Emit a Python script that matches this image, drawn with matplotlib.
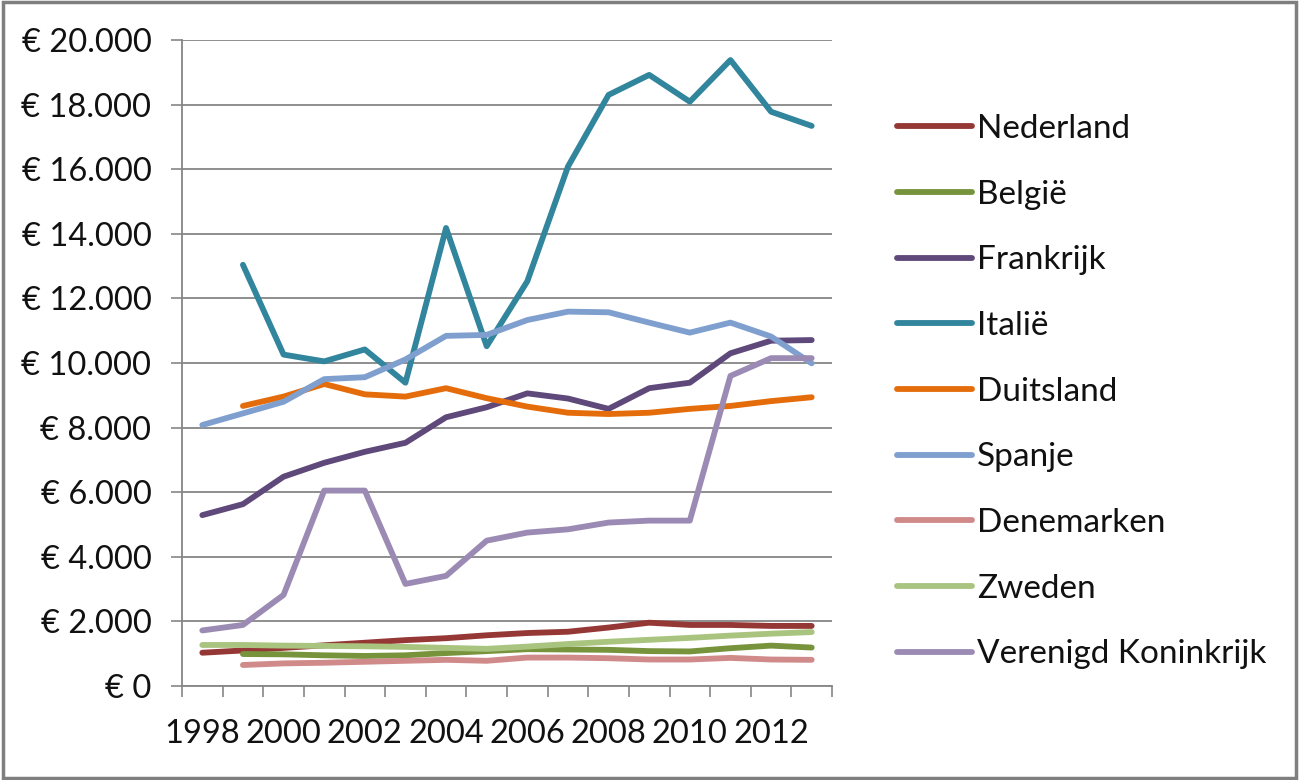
import numpy as np
import matplotlib
matplotlib.use("Agg")
import matplotlib.pyplot as plt
from matplotlib.patches import Rectangle

plt.rcParams['font.family'] = ['Lato', 'DejaVu Sans']

# jaren (categorie-as)
years = list(range(1998, 2014))
nan = np.nan

# waarden per land (euro)
nederland = [1030, 1100, 1180, 1260, 1340, 1420, 1480, 1570, 1640, 1680, 1810, 1960, 1890, 1890, 1860, 1860]
belgie = [nan, 990, 980, 950, 930, 950, 1020, 1080, 1140, 1130, 1120, 1080, 1070, 1170, 1250, 1190]
frankrijk = [5290, 5630, 6480, 6910, 7250, 7530, 8320, 8630, 9060, 8900, 8580, 9220, 9390, 10300, 10690, 10710]
italie = [nan, 13040, 10260, 10050, 10420, 9390, 14180, 10520, 12530, 16080, 18300, 18920, 18090, 19380, 17780, 17340]
duitsland = [nan, 8670, 8960, 9350, 9030, 8960, 9220, 8910, 8650, 8460, 8420, 8460, 8580, 8670, 8820, 8940]
spanje = [8080, 8440, 8800, 9500, 9560, 10110, 10840, 10870, 11330, 11590, 11570, 11250, 10940, 11250, 10820, 9990]
denemarken = [nan, 650, 700, 720, 750, 780, 810, 780, 880, 880, 860, 820, 820, 870, 820, 810]
zweden = [1270, 1270, 1250, 1240, 1230, 1210, 1180, 1150, 1220, 1300, 1370, 1430, 1490, 1560, 1620, 1670]
vk = [1720, 1890, 2820, 6050, 6050, 3160, 3410, 4500, 4750, 4850, 5060, 5120, 5120, 9600, 10150, 10150]

series = [
    ("Nederland", nederland, "#953735"),
    ("België", belgie, "#77933C"),
    ("Frankrijk", frankrijk, "#5F497A"),
    ("Italië", italie, "#31859C"),
    ("Duitsland", duitsland, "#E46C0A"),
    ("Spanje", spanje, "#7F9FCF"),
    ("Denemarken", denemarken, "#D08A8A"),
    ("Zweden", zweden, "#A9C47F"),
    ("Verenigd Koninkrijk", vk, "#9B8BB4"),
]

y_ticks = [0, 2000, 4000, 6000, 8000, 10000, 12000, 14000, 16000, 18000, 20000]
y_labels = ["€ 0", "€ 2.000", "€ 4.000", "€ 6.000", "€ 8.000", "€ 10.000",
            "€ 12.000", "€ 14.000", "€ 16.000", "€ 18.000", "€ 20.000"]

fig = plt.figure(figsize=(12.99, 7.80), dpi=100)
ax = fig.add_axes([182 / 1299, 1 - 686 / 780, 650 / 1299, 646 / 780])

x = np.arange(len(years))
for name, vals, col in series:
    ax.plot(x, vals, color=col, lw=4.2, label=name, solid_capstyle='round',
            solid_joinstyle='round')

grey = "#868686"
ax.set_ylim(0, 20000)
ax.set_xlim(-0.5, len(years) - 0.5)
ax.set_yticks(y_ticks)
ax.set_yticklabels(y_labels)
ax.yaxis.grid(True, color=grey, lw=1.3)
ax.set_axisbelow(True)

# streepjes tussen de categorieen, labels om de twee jaar
ax.set_xticks(np.arange(-0.5, len(years), 1.0))
ax.set_xticklabels([])
ax.set_xticks(x[::2], minor=True)
ax.set_xticklabels([str(y) for y in years[::2]], minor=True)
ax.tick_params(axis='x', which='major', length=8, width=1.2, color=grey, direction='out')
ax.tick_params(axis='x', which='minor', length=0, pad=24, labelsize=23.5, labelcolor='#111111')
ax.tick_params(axis='y', length=8, width=1.2, color=grey, pad=14, labelsize=23.5, labelcolor='#111111')

for s in ['top', 'right']:
    ax.spines[s].set_visible(False)
for s in ['left', 'bottom']:
    ax.spines[s].set_color(grey)
    ax.spines[s].set_linewidth(1.3)

leg = fig.legend(loc='upper left', bbox_to_anchor=(897 / 1299, 1 - 114 / 780),
                 frameon=False, fontsize=24, handlelength=2.25, handletextpad=0.15,
                 labelspacing=1.07, borderpad=0, borderaxespad=0)
for t in leg.get_texts():
    t.set_color('#111111')

fig.patches.append(Rectangle((0.002, 0.003), 0.996, 0.994, transform=fig.transFigure,
                             fill=False, edgecolor="#7F7F7F", lw=2.5))

fig.savefig("out.png", dpi=100)
